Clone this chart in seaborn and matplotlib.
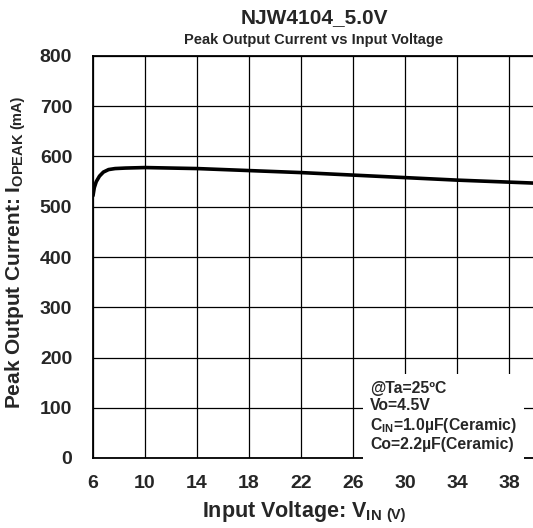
import numpy as np
import pandas as pd
import matplotlib
matplotlib.use("Agg")
import matplotlib.pyplot as plt
import seaborn as sns

# curve
vin = [6.0, 6.1, 6.25, 6.5, 6.8, 7.2, 7.7, 8.5, 10, 14, 18, 22, 26, 30, 34, 38, 40]
iopeak = [522, 538, 550, 561, 569, 574, 576, 577, 578, 576, 572, 568, 563, 558, 553, 549, 547]
x_ticks = [6, 10, 14, 18, 22, 26, 30, 34, 38]
y_ticks = [0, 100, 200, 300, 400, 500, 600, 700, 800]

df = pd.DataFrame({"Vin": vin, "Iopeak": iopeak})

sns.set_style("white")
plt.rcParams['font.family'] = ['Liberation Sans', 'DejaVu Sans']
plt.rcParams['font.weight'] = 'bold'
plt.rcParams['mathtext.fontset'] = 'custom'
plt.rcParams['mathtext.rm'] = 'Liberation Sans:bold'
plt.rcParams['mathtext.bf'] = 'Liberation Sans:bold'
plt.rcParams['mathtext.it'] = 'Liberation Sans:bold'
plt.rcParams['mathtext.default'] = 'bf'

fig = plt.figure(figsize=(5.33, 5.28), dpi=100)
ax = fig.add_axes([93/533, 1-458/528, 442/533, 402/528])

sns.lineplot(data=df, x="Vin", y="Iopeak", color="black", linewidth=2.6, ax=ax)

ax.set_xlim(6, 40)
ax.set_ylim(0, 800)
ax.set_xticks(x_ticks)
ax.set_yticks(y_ticks)
ax.set_xticks(np.arange(6, 41, 2), minor=True)
ax.set_yticks(np.arange(0, 801, 20), minor=True)
ax.tick_params(axis="both", which="major", labelsize=14, length=0)
ax.tick_params(axis="y", which="major", pad=15)
ax.tick_params(axis="x", which="major", pad=12)
ax.tick_params(axis="both", which="minor", direction="in", length=4, width=0.8, color="black")
ax.grid(True, which="major", color="black", linewidth=0.9)
for s in ax.spines.values():
    s.set_color("black")
    s.set_linewidth(1.3)

for lab in ax.get_xticklabels() + ax.get_yticklabels():
    lab.set_fontweight("bold")

xl = ax.set_xlabel(r"Input Voltage: V$_{\mathbf{IN}}$", fontsize=15.5, fontweight="bold", labelpad=5)
yl = ax.set_ylabel(r"Peak Output Current: I$_{\mathbf{OPEAK}}$", fontsize=15, fontweight="bold")
xl.set_x(0.45)
ax.yaxis.set_label_coords(-0.152, 0.465)
ax.annotate("(V)", xy=(1, 0.05), xycoords=xl, xytext=(3, 0), textcoords="offset points",
            fontsize=10.5, fontweight="bold", ha="left", va="bottom")
ax.annotate("(mA)", xy=(0.95, 1), xycoords=yl, xytext=(0, 3), textcoords="offset points",
            fontsize=10.5, fontweight="bold", ha="right", va="bottom", rotation=90)

fig.text(314/533, 1 - 18/528, "NJW4104_5.0V", fontsize=15, fontweight="bold",
         ha="center", va="center")
fig.text(314/533, 1 - 40/528, "Peak Output Current vs Input Voltage", fontsize=10.5,
         fontweight="bold", ha="center", va="center")

note = "@Ta=25ºC\nVo=4.5V\n" + r"C$_{\mathbf{IN}}$=1.0µF(Ceramic)" + "\nCo=2.2µF(Ceramic)"
ax.text(0.627, 0.014, note, transform=ax.transAxes, fontsize=11.3, fontweight="bold",
        ha="left", va="bottom", linespacing=1.2,
        bbox=dict(facecolor="white", edgecolor="none", pad=5))

plt.savefig("out.png", dpi=100)
